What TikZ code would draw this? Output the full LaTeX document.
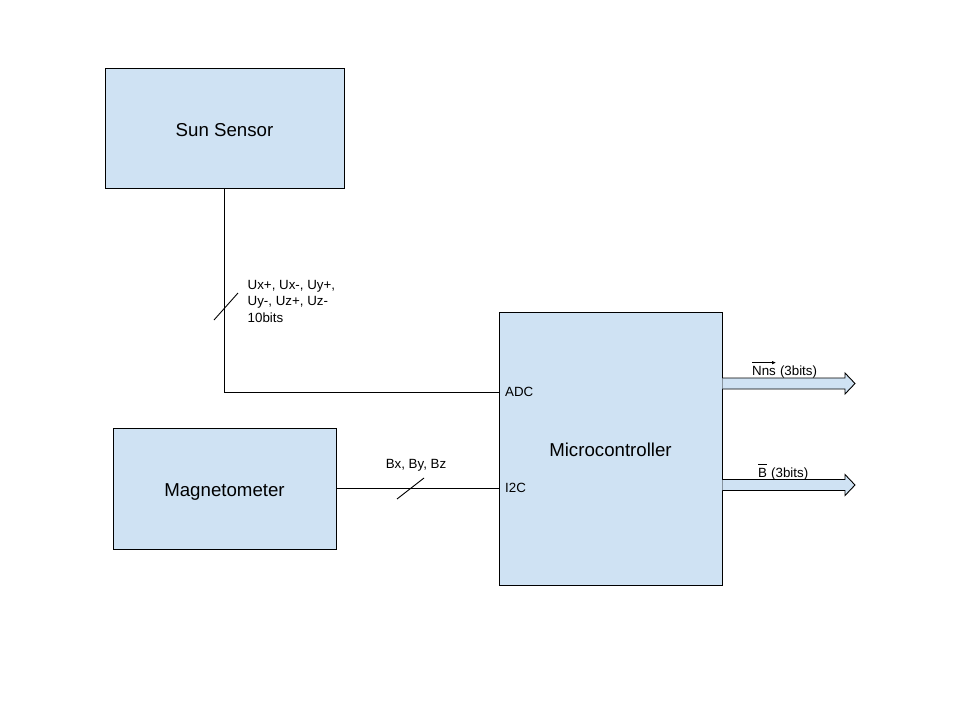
\documentclass[tikz,border=0pt]{standalone}
\usepackage{fontspec}
\setmainfont{Liberation Sans}
\usetikzlibrary{arrows.meta}
\definecolor{boxblue}{HTML}{CFE2F3}
\begin{document}
\begin{tikzpicture}[x=1pt,y=-1pt,
  blk/.style={draw=black, fill=boxblue, line width=0.9pt, inner sep=0pt, text height=13.4pt, text depth=0pt, font=\fontsize{18.67}{22}\selectfont},
  btxt/.style={inner sep=0pt, text height=13.4pt, text depth=0pt, font=\fontsize{18.67}{22}\selectfont},
  lbl/.style={inner sep=0pt, font=\fontsize{13.33}{17.5}\selectfont},
  wire/.style={line width=0.9pt, draw=black},
  busarrow/.style={line width=0.9pt, draw=black, line join=miter},
  overarrow/.style={line width=0.9pt, -{Latex[length=4pt,width=3.5pt]}}]
\useasboundingbox (0,0) rectangle (960,720);
\fill[white] (0,0) rectangle (960,720);

\node[blk, minimum width=239pt, minimum height=120pt] (sun) at (224.5,128) {};
\node[btxt] (suntext) at (224.5,129.5) {Sun Sensor};
\node[blk, minimum width=223pt, minimum height=121pt] (mag) at (224.5,488.5) {};
\node[btxt] (magtext) at (224.5,490) {Magnetometer};
\node[blk, minimum width=223pt, minimum height=273pt] (mc) at (610.5,448.5) {};
\node[btxt] (mctext) at (610.5,450) {Microcontroller};

% Sun sensor to ADC
\coordinate (adc) at (mc.west |- 0,392);
\coordinate (sunbend) at (sun.south |- adc);
\draw[wire] (sun.south) -- (sunbend) -- (adc);
\coordinate (s1) at (214,320);
\coordinate (s2) at (238,293);
\draw[wire] (s1) -- (s2);
\node[lbl, anchor=base west] (sunlbl) at (247.5,289) {Ux+, Ux-, Uy+,};
\node[lbl, anchor=base west] (sunlbl2) at (247.5,305.5) {Uy-, Uz+, Uz-};
\node[lbl, anchor=base west] (sunlbl3) at (247.5,322) {10bits};
\node[lbl, anchor=base west] (adclbl) at (505,396.5) {ADC};

% Magnetometer to I2C
\coordinate (i2c) at (mc.west |- mag.east);
\draw[wire] (mag.east) -- (i2c);
\coordinate (m1) at (397,499);
\coordinate (m2) at (424,478);
\draw[wire] (m1) -- (m2);
\node[lbl, anchor=base] (maglbl) at (416,468) {Bx, By, Bz};
\node[lbl, anchor=base west] (i2clbl) at (505,492.5) {I2C};

% Output bus arrows
\fill[boxblue] (mc.east |- 0,378) -- (845,378) -- (845,373) -- (855,383.5) -- (845,394) -- (845,389) -- (mc.east |- 0,389) -- cycle;
\draw[busarrow] (mc.east |- 0,378) -- (845,378) -- (845,373) -- (855,383.5) -- (845,394) -- (845,389) -- (mc.east |- 0,389);
\fill[boxblue] (mc.east |- 0,479.5) -- (845,479.5) -- (845,474.5) -- (855,485) -- (845,495.5) -- (845,490.5) -- (mc.east |- 0,490.5) -- cycle;
\draw[busarrow] (mc.east |- 0,479.5) -- (845,479.5) -- (845,474.5) -- (855,485) -- (845,495.5) -- (845,490.5) -- (mc.east |- 0,490.5);

\node[lbl, anchor=base west] (nns) at (752,375) {Nns};
\node[lbl, anchor=base west] (nnsbits) at ([xshift=3.7pt]nns.base east) {(3bits)};
\draw[overarrow] ([yshift=3pt]nns.north west) -- ([yshift=3pt]nns.north east);

\node[lbl, anchor=base west] (bvec) at (758,477) {B};
\node[lbl, anchor=base west] (bbits) at ([xshift=3.7pt]bvec.base east) {(3bits)};
\draw[line width=1.3pt] ([yshift=3pt]bvec.north west) -- ([yshift=3pt]bvec.north east);
\end{tikzpicture}
\end{document}
